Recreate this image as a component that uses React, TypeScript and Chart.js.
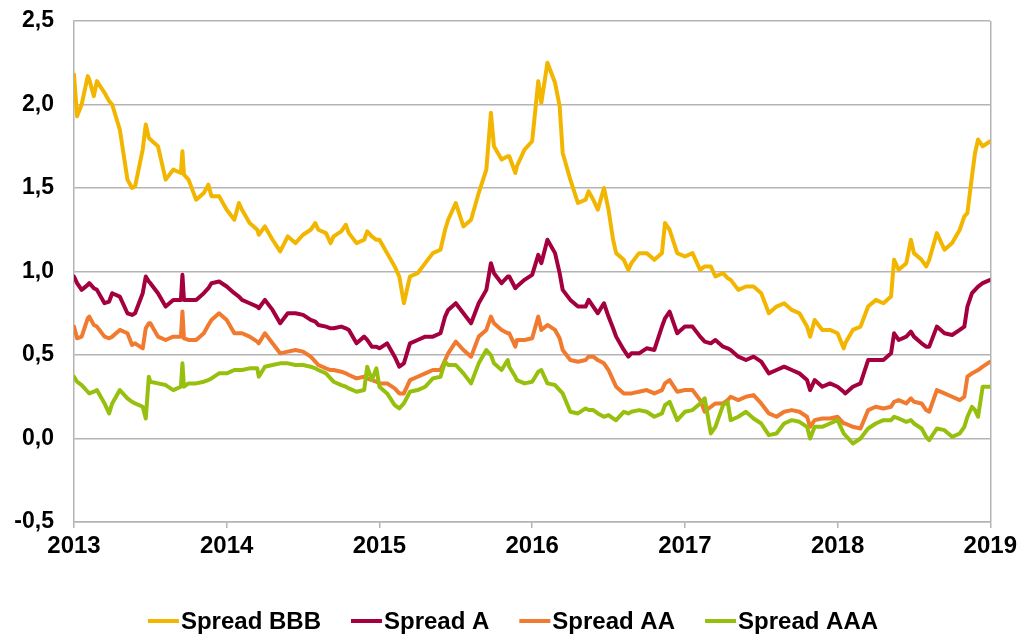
import { useEffect, useRef } from "react";
import { Chart, registerables } from "chart.js";

Chart.register(...registerables);

// Dates as fractional years
const dates = [
  // 2013
  2013.00, 2013.02, 2013.05, 2013.09, 2013.10, 2013.13, 2013.15, 2013.20, 2013.23, 2013.25,
  2013.30, 2013.35, 2013.38, 2013.40, 2013.45, 2013.47, 2013.49, 2013.50, 2013.55, 2013.60,
  2013.65, 2013.70, 2013.71, 2013.72, 2013.75, 2013.80, 2013.85, 2013.88, 2013.90, 2013.95,
  // 2014
  2014.00, 2014.05, 2014.08, 2014.10, 2014.15, 2014.20, 2014.21, 2014.25, 2014.30, 2014.35,
  2014.40, 2014.45, 2014.50, 2014.55, 2014.58, 2014.60, 2014.65, 2014.68, 2014.70, 2014.75,
  2014.78, 2014.80, 2014.85, 2014.90, 2014.92, 2014.95, 2014.98,
  // 2015
  2015.00, 2015.05, 2015.10, 2015.13, 2015.16, 2015.20, 2015.25, 2015.30, 2015.35, 2015.40,
  2015.43, 2015.45, 2015.50, 2015.55, 2015.60, 2015.65, 2015.70, 2015.73, 2015.75, 2015.80,
  2015.84, 2015.85, 2015.89, 2015.90, 2015.95,
  // 2016
  2016.00, 2016.04, 2016.06, 2016.10, 2016.15, 2016.18, 2016.20, 2016.25, 2016.30, 2016.35,
  2016.37, 2016.40, 2016.43, 2016.47, 2016.50, 2016.53, 2016.55, 2016.60, 2016.63, 2016.65,
  2016.70, 2016.75, 2016.80, 2016.85, 2016.87, 2016.90, 2016.95,
  // 2017
  2017.00, 2017.05, 2017.10, 2017.13, 2017.17, 2017.20, 2017.25, 2017.28, 2017.30, 2017.35,
  2017.40, 2017.45, 2017.50, 2017.55, 2017.60, 2017.65, 2017.70, 2017.75, 2017.80, 2017.82,
  2017.85, 2017.90, 2017.95,
  // 2018
  2018.00, 2018.04, 2018.05, 2018.10, 2018.15, 2018.20, 2018.25, 2018.30, 2018.35, 2018.37,
  2018.40, 2018.45, 2018.48, 2018.50, 2018.55, 2018.58, 2018.60, 2018.65, 2018.70, 2018.75,
  2018.80, 2018.83, 2018.85, 2018.88, 2018.90, 2018.92, 2018.95,
  2019.00,
];

const spreadBBB = [
  2.18, 1.93, 2.00, 2.17, 2.15, 2.05, 2.14, 2.07, 2.02, 2.00,
  1.85, 1.55, 1.50, 1.51, 1.73, 1.88, 1.80, 1.79, 1.75, 1.55,
  1.61, 1.59, 1.72, 1.58, 1.55, 1.43, 1.47, 1.52, 1.45, 1.45,
  1.37, 1.31, 1.41, 1.37, 1.29, 1.25, 1.22, 1.27, 1.19, 1.12,
  1.21, 1.17, 1.22, 1.25, 1.29, 1.25, 1.23, 1.17, 1.21, 1.24,
  1.28, 1.23, 1.17, 1.19, 1.24, 1.21, 1.19,
  1.19, 1.11, 1.03, 0.97, 0.81, 0.97, 0.99, 1.05, 1.11, 1.13,
  1.25, 1.31, 1.41, 1.27, 1.31, 1.47, 1.61, 1.95, 1.75, 1.67,
  1.69, 1.69, 1.59, 1.63, 1.73,
  1.78, 2.14, 2.01, 2.25, 2.13, 1.99, 1.71, 1.55, 1.41, 1.43,
  1.48, 1.43, 1.37, 1.50, 1.37, 1.19, 1.11, 1.07, 1.01, 1.05,
  1.11, 1.11, 1.07, 1.11, 1.29, 1.25, 1.11,
  1.09, 1.11, 1.01, 1.03, 1.03, 0.97, 0.99, 0.96, 0.95, 0.89,
  0.91, 0.91, 0.87, 0.75, 0.79, 0.81, 0.77, 0.75, 0.67, 0.61,
  0.71, 0.65, 0.65,
  0.63, 0.54, 0.57, 0.65, 0.67, 0.79, 0.83, 0.81, 0.85, 1.07,
  1.01, 1.05, 1.19, 1.11, 1.07, 1.03, 1.07, 1.23, 1.13, 1.17,
  1.25, 1.33, 1.35, 1.57, 1.71, 1.79, 1.75,
  1.78,
];

const spreadA = [
  0.97, 0.93, 0.89, 0.92, 0.93, 0.90, 0.89, 0.81, 0.82, 0.87,
  0.85, 0.75, 0.74, 0.75, 0.87, 0.97, 0.94, 0.93, 0.87, 0.79,
  0.83, 0.83, 0.98, 0.83, 0.83, 0.83, 0.87, 0.90, 0.93, 0.94,
  0.91, 0.87, 0.85, 0.83, 0.81, 0.79, 0.78, 0.83, 0.77, 0.69,
  0.75, 0.75, 0.74, 0.71, 0.70, 0.68, 0.67, 0.66, 0.66, 0.67,
  0.66, 0.65, 0.57, 0.61, 0.59, 0.55, 0.55,
  0.54, 0.57, 0.49, 0.43, 0.45, 0.57, 0.59, 0.61, 0.61, 0.63,
  0.73, 0.77, 0.81, 0.75, 0.69, 0.81, 0.89, 1.05, 0.99, 0.93,
  0.97, 0.97, 0.90, 0.91, 0.95,
  0.98, 1.10, 1.05, 1.19, 1.11, 0.99, 0.89, 0.83, 0.79, 0.79,
  0.83, 0.79, 0.75, 0.81, 0.73, 0.66, 0.61, 0.53, 0.49, 0.51,
  0.51, 0.54, 0.53, 0.67, 0.72, 0.76, 0.63,
  0.67, 0.67, 0.61, 0.58, 0.57, 0.59, 0.55, 0.54, 0.53, 0.49,
  0.47, 0.49, 0.46, 0.39, 0.41, 0.43, 0.41, 0.39, 0.35, 0.29,
  0.35, 0.31, 0.33,
  0.31, 0.28, 0.27, 0.31, 0.33, 0.47, 0.47, 0.47, 0.51, 0.63,
  0.59, 0.61, 0.64, 0.61, 0.57, 0.55, 0.55, 0.67, 0.63, 0.62,
  0.65, 0.67, 0.79, 0.87, 0.89, 0.91, 0.93,
  0.95,
];

const spreadAA = [
  0.67, 0.60, 0.61, 0.72, 0.73, 0.68, 0.67, 0.61, 0.60, 0.61,
  0.65, 0.63, 0.56, 0.57, 0.54, 0.66, 0.69, 0.69, 0.61, 0.59,
  0.61, 0.61, 0.76, 0.60, 0.59, 0.59, 0.63, 0.68, 0.71, 0.75,
  0.71, 0.63, 0.63, 0.63, 0.61, 0.58, 0.57, 0.63, 0.57, 0.51,
  0.52, 0.53, 0.52, 0.49, 0.46, 0.44, 0.42, 0.41, 0.41, 0.40,
  0.39, 0.38, 0.36, 0.37, 0.36, 0.35, 0.34,
  0.33, 0.33, 0.30, 0.27, 0.27, 0.35, 0.37, 0.39, 0.41, 0.41,
  0.47, 0.51, 0.58, 0.53, 0.49, 0.61, 0.65, 0.73, 0.69, 0.65,
  0.63, 0.63, 0.55, 0.59, 0.59,
  0.60, 0.73, 0.65, 0.68, 0.65, 0.60, 0.53, 0.47, 0.46, 0.47,
  0.49, 0.49, 0.47, 0.45, 0.41, 0.35, 0.31, 0.27, 0.27, 0.27,
  0.28, 0.29, 0.27, 0.29, 0.33, 0.35, 0.28,
  0.29, 0.29, 0.23, 0.16, 0.19, 0.21, 0.21, 0.23, 0.25, 0.23,
  0.25, 0.26, 0.21, 0.15, 0.13, 0.16, 0.17, 0.16, 0.13, 0.07,
  0.11, 0.12, 0.12,
  0.13, 0.09, 0.09, 0.07, 0.06, 0.17, 0.19, 0.18, 0.19, 0.22,
  0.23, 0.21, 0.24, 0.22, 0.21, 0.17, 0.16, 0.29, 0.27, 0.25,
  0.23, 0.25, 0.37, 0.39, 0.40, 0.41, 0.43,
  0.46,
];

const spreadAAA = [
  0.37, 0.34, 0.32, 0.28, 0.27, 0.28, 0.29, 0.21, 0.15, 0.21,
  0.29, 0.24, 0.22, 0.21, 0.19, 0.12, 0.37, 0.34, 0.33, 0.32,
  0.29, 0.31, 0.45, 0.31, 0.33, 0.33, 0.34, 0.35, 0.36, 0.39,
  0.39, 0.41, 0.41, 0.41, 0.42, 0.42, 0.37, 0.43, 0.44, 0.45,
  0.45, 0.44, 0.44, 0.43, 0.42, 0.41, 0.39, 0.36, 0.34, 0.32,
  0.31, 0.30, 0.28, 0.29, 0.43, 0.35, 0.42,
  0.31, 0.27, 0.20, 0.18, 0.21, 0.28, 0.29, 0.31, 0.36, 0.37,
  0.46, 0.44, 0.44, 0.39, 0.33, 0.45, 0.53, 0.50, 0.45, 0.41,
  0.47, 0.43, 0.37, 0.35, 0.33,
  0.34, 0.40, 0.41, 0.33, 0.32, 0.29, 0.27, 0.16, 0.15, 0.18,
  0.17, 0.17, 0.15, 0.13, 0.14, 0.12, 0.11, 0.16, 0.15, 0.16,
  0.17, 0.16, 0.13, 0.15, 0.20, 0.22, 0.11,
  0.16, 0.17, 0.21, 0.24, 0.03, 0.07, 0.20, 0.22, 0.11, 0.13,
  0.16, 0.12, 0.09, 0.02, 0.03, 0.09, 0.11, 0.10, 0.07, 0.00,
  0.07, 0.07, 0.09,
  0.11, 0.03, 0.02, -0.03, 0.00, 0.06, 0.09, 0.11, 0.11, 0.13,
  0.12, 0.10, 0.11, 0.09, 0.06, 0.01, -0.01, 0.06, 0.05, 0.01,
  0.03, 0.07, 0.13, 0.19, 0.17, 0.13, 0.31,
  0.31,
];

const seriesNames = ["Spread BBB", "Spread A", "Spread AA", "Spread AAA"];
const seriesValues = [spreadBBB, spreadA, spreadAA, spreadAAA];
const seriesColors = ["#F2B600", "#A4003F", "#F07A30", "#97C00E"];

const xTickYears = [2013, 2014, 2015, 2016, 2017, 2018, 2019];
const yTickValues = [-0.5, 0, 0.5, 1.0, 1.5, 2.0, 2.5];

const GRID = "#b4b4b4";
const FONT_FAMILY = "'Liberation Sans', Arial, Helvetica, sans-serif";

const bottomLegend = {
  id: "bottomLegend",
  afterDraw(chart: any) {
    const ctx = chart.ctx as CanvasRenderingContext2D;
    ctx.save();
    ctx.font = `bold 24px ${FONT_FAMILY}`;
    const lineW = 31;
    const gapText = 2;
    const gapItem = 30;
    const items = chart.data.datasets
      .slice()
      .sort((a: any, b: any) => a.legendIndex - b.legendIndex)
      .map((ds: any) => ({
        label: ds.label as string,
        color: ds.borderColor as string,
        w: ctx.measureText(ds.label).width,
      }));
    const total =
      items.reduce((s: number, it: any) => s + lineW + gapText + it.w, 0) +
      gapItem * (items.length - 1);
    let x = 513 - total / 2;
    const y = 621;
    ctx.textBaseline = "middle";
    ctx.textAlign = "left";
    for (const it of items) {
      ctx.fillStyle = it.color;
      ctx.fillRect(x, y - 2, lineW, 4);
      x += lineW + gapText;
      ctx.fillStyle = "#000";
      ctx.fillText(it.label, x, y + 1);
      x += it.w + gapItem;
    }
    ctx.restore();
  },
};

export default function App() {
  const canvasRef = useRef<HTMLCanvasElement | null>(null);

  useEffect(() => {
    document.body.style.margin = "0";
    const canvas = canvasRef.current;
    if (!canvas) return;

    const n = dates.length;
    const datasets = seriesNames.map((name, i) => ({
      label: name,
      legendIndex: i,
      data: dates.slice(0, Math.min(n, seriesValues[i].length)).map((d, k) => ({
        x: d,
        y: seriesValues[i][k],
      })),
      borderColor: seriesColors[i],
      backgroundColor: seriesColors[i],
      borderWidth: 4,
      pointRadius: 0,
      tension: 0,
      fill: false,
      order: seriesNames.length - 1 - i,
      borderJoinStyle: "round" as const,
      borderCapStyle: "round" as const,
    }));

    const chart = new Chart(canvas, {
      type: "line",
      data: { datasets },
      options: {
        responsive: false,
        animation: false,
        parsing: true,
        layout: { padding: { top: 21, right: 29, bottom: 74, left: 0 } },
        plugins: {
          legend: { display: false },
          tooltip: { enabled: false },
        },
        scales: {
          x: {
            type: "linear",
            min: 2013,
            max: 2019,
            afterBuildTicks: (scale: any) => {
              scale.ticks = xTickYears.map((v) => ({ value: v }));
            },
            afterFit: (scale: any) => {
              scale.height = 40;
            },
            ticks: {
              autoSkip: false,
              maxRotation: 0,
              padding: 4,
              color: "#000",
              font: { family: FONT_FAMILY, size: 24, weight: "bold" },
              callback: (v: any) => String(v),
            },
            grid: {
              color: (ctx: any) =>
                ctx.tick && ctx.tick.value === 2019 ? GRID : "rgba(0,0,0,0)",
              tickColor: GRID,
              tickLength: 6,
              lineWidth: 1.5,
            },
            border: { color: GRID, width: 1.5 },
          },
          y: {
            type: "linear",
            min: -0.5,
            max: 2.5,
            afterBuildTicks: (scale: any) => {
              scale.ticks = yTickValues.map((v) => ({ value: v }));
            },
            afterFit: (scale: any) => {
              scale.width = 74;
              scale.paddingTop = 0;
              scale.paddingBottom = 0;
            },
            ticks: {
              padding: 20,
              color: "#000",
              font: { family: FONT_FAMILY, size: 23, weight: "bold" },
              callback: (v: any) => Number(v).toFixed(1).replace(".", ","),
            },
            grid: {
              color: GRID,
              lineWidth: 1.5,
              drawTicks: false,
            },
            border: { color: GRID, width: 1.5 },
          },
        },
      },
      plugins: [bottomLegend],
    } as any);

    return () => {
      chart.destroy();
    };
  }, []);

  return (
    <div style={{ width: 1021, height: 636, background: "#fff" }}>
      <canvas ref={canvasRef} width={1021} height={636} style={{ display: "block" }} />
    </div>
  );
}
